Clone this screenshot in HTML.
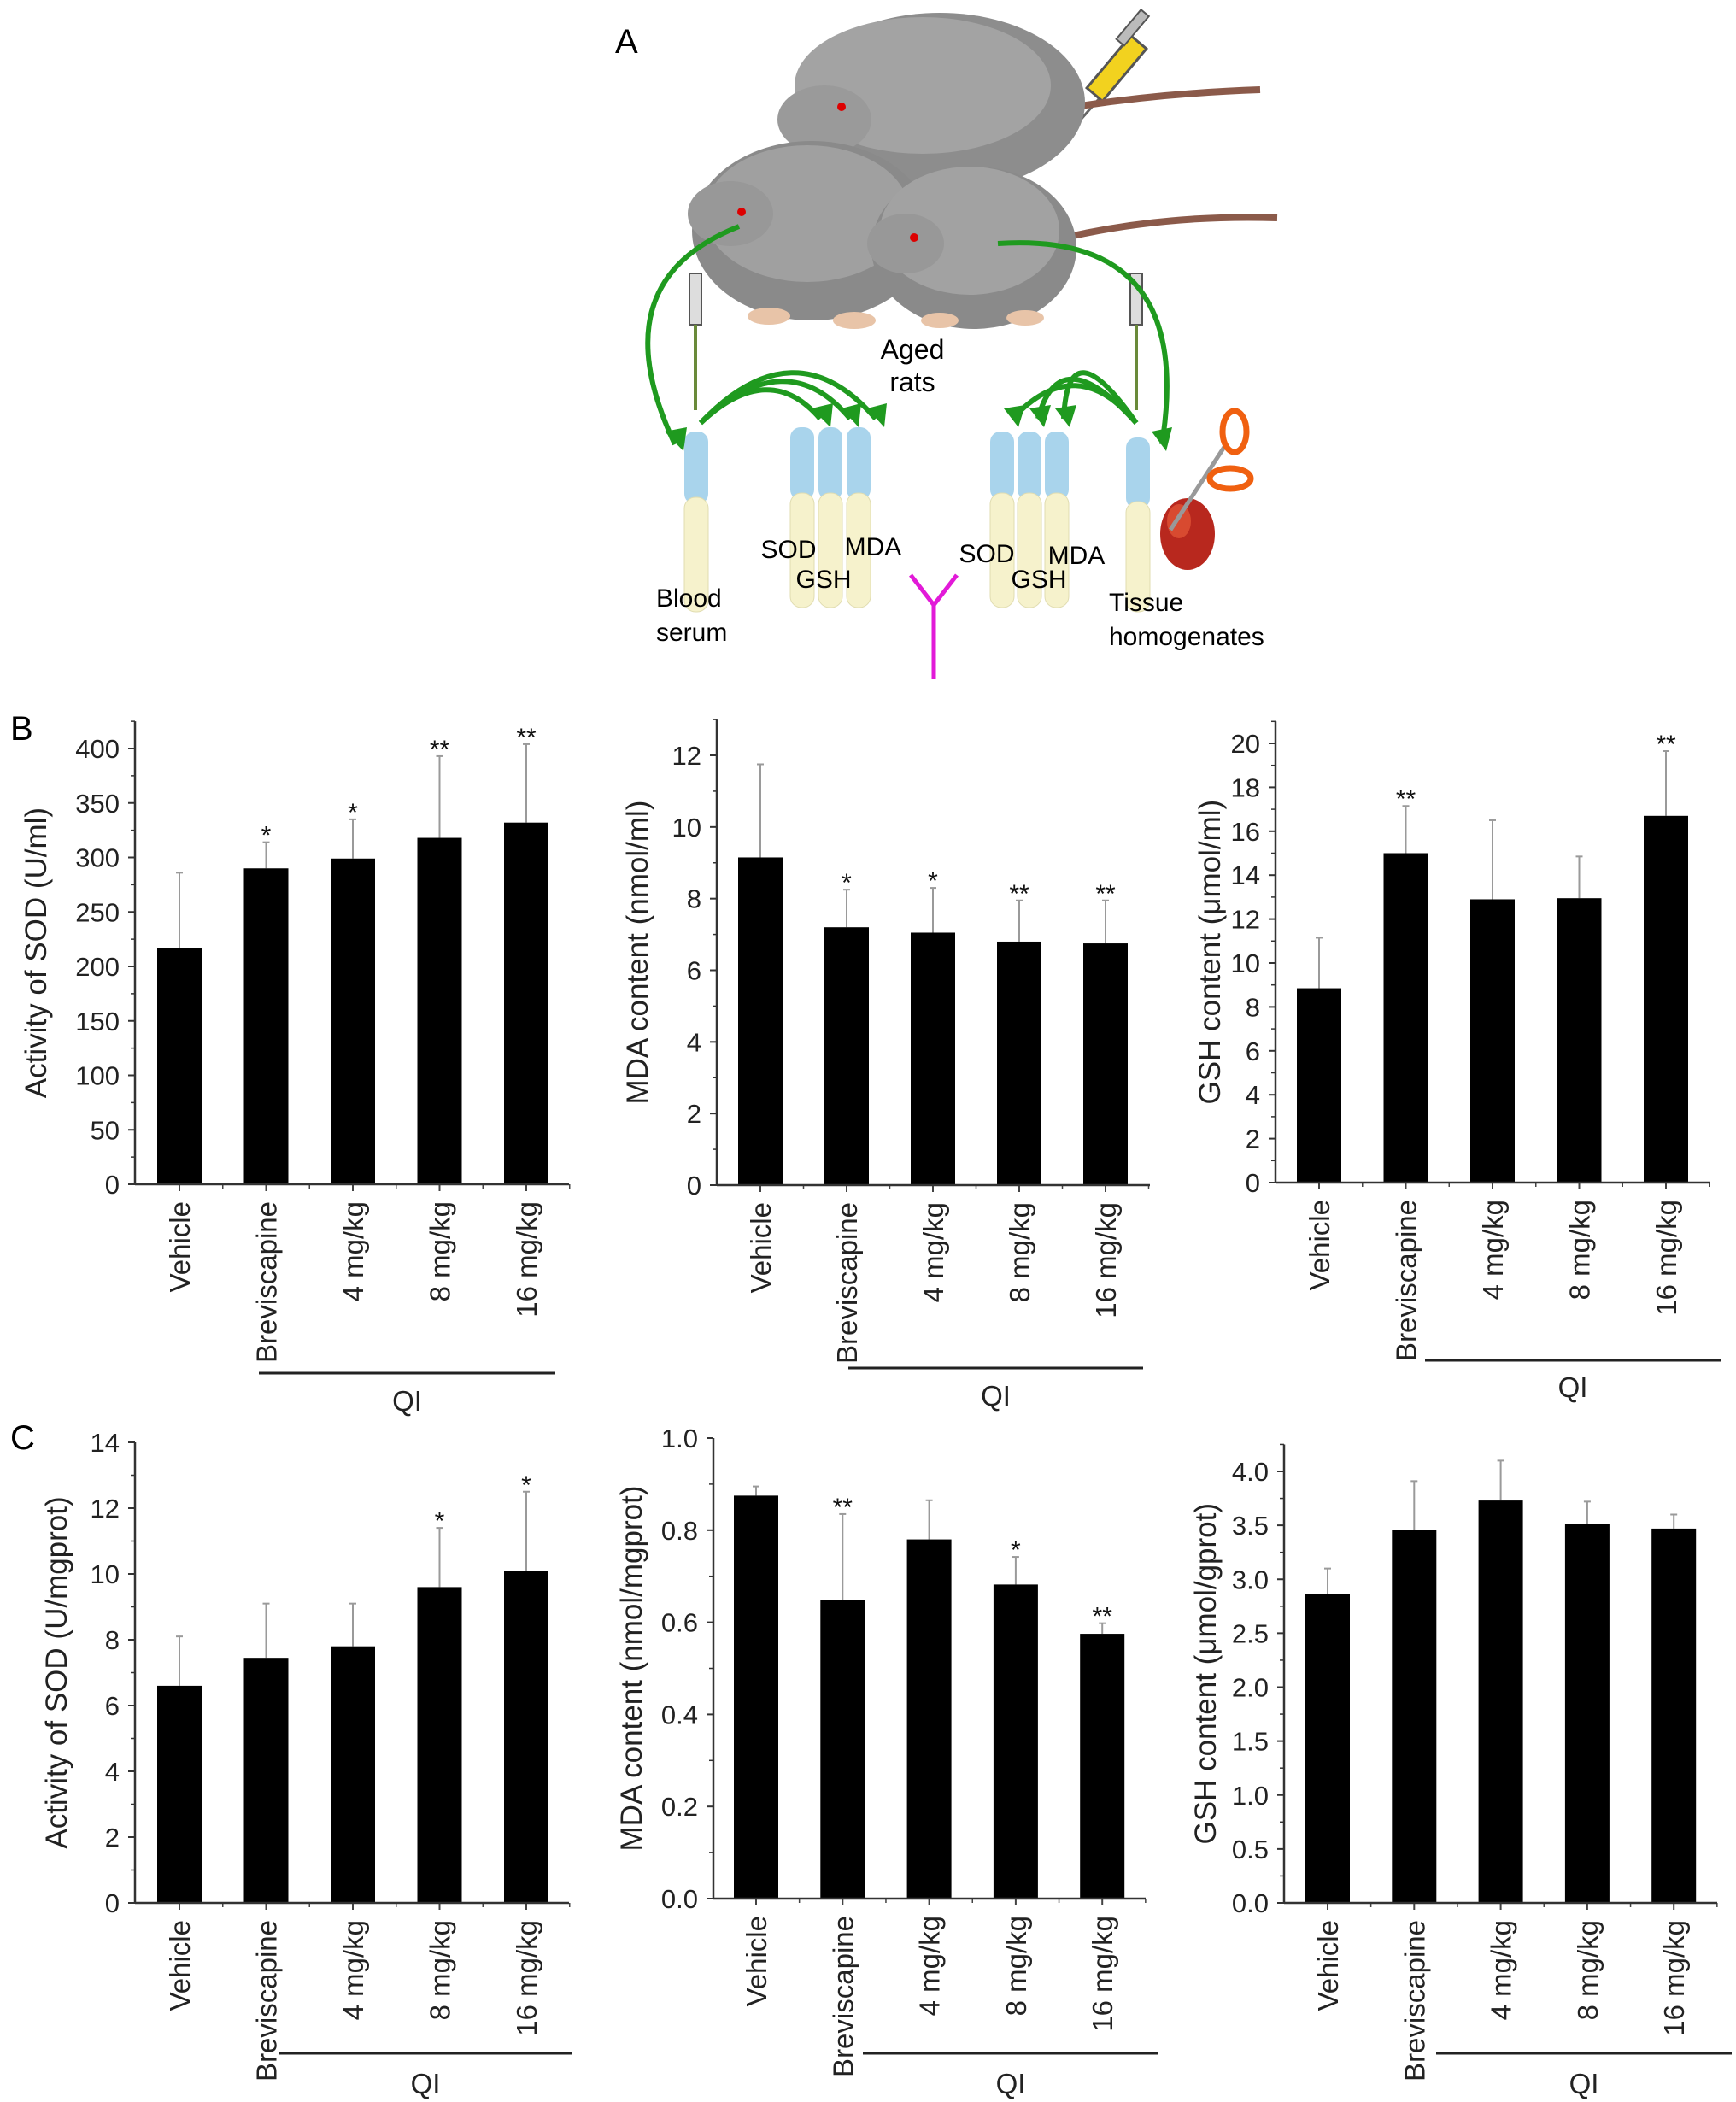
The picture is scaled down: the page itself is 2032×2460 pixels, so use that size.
<!DOCTYPE html>
<html><head><meta charset="utf-8">
<style>
html,body{margin:0;padding:0;background:#fff;}
svg{display:block;font-family:"Liberation Sans",Arial,sans-serif;}
</style></head>
<body>
<svg id="fig" width="2032" height="2460" viewBox="0 0 2032 2460" xmlns="http://www.w3.org/2000/svg">
<rect width="2032" height="2460" fill="#fff"/>
<g id="panelA">
  <text x="720" y="62" font-size="40">A</text>
  <g>
    <line x1="1265" y1="140" x2="1300" y2="100" stroke="#666" stroke-width="3"/>
    <rect x="1295" y="40" width="24" height="80" fill="#f2d21f" stroke="#555" stroke-width="3" transform="rotate(40 1307 80)"/>
    <rect x="1320" y="10" width="12" height="45" fill="#bbb" stroke="#555" stroke-width="2" transform="rotate(40 1326 32)"/>
  </g>
  <g>
    <path d="M1200 135 Q1330 110 1475 105" stroke="#8b5a4a" stroke-width="8" fill="none"/>
    <ellipse cx="1100" cy="120" rx="170" ry="105" fill="#8d8d8d"/>
    <ellipse cx="1080" cy="100" rx="150" ry="80" fill="#a3a3a3"/>
    <ellipse cx="965" cy="140" rx="55" ry="40" fill="#9a9a9a"/>
    <circle cx="985" cy="125" r="5" fill="#d00"/>
  </g>
  <g>
    <ellipse cx="950" cy="270" rx="140" ry="105" fill="#8a8a8a"/>
    <ellipse cx="945" cy="250" rx="120" ry="80" fill="#a0a0a0"/>
    <ellipse cx="855" cy="250" rx="50" ry="38" fill="#989898"/>
    <circle cx="868" cy="248" r="5" fill="#d00"/>
    <ellipse cx="900" cy="370" rx="25" ry="10" fill="#e8c4a8"/>
    <ellipse cx="1000" cy="375" rx="25" ry="10" fill="#e8c4a8"/>
  </g>
  <g>
    <path d="M1200 290 Q1340 250 1495 255" stroke="#8b5a4a" stroke-width="8" fill="none"/>
    <ellipse cx="1140" cy="290" rx="120" ry="95" fill="#8a8a8a"/>
    <ellipse cx="1135" cy="270" rx="105" ry="75" fill="#a2a2a2"/>
    <ellipse cx="1060" cy="285" rx="45" ry="35" fill="#989898"/>
    <circle cx="1070" cy="278" r="5" fill="#d00"/>
    <ellipse cx="1100" cy="375" rx="22" ry="9" fill="#e8c4a8"/>
    <ellipse cx="1200" cy="372" rx="22" ry="9" fill="#e8c4a8"/>
  </g>
  <text x="1068" y="420" font-size="32" text-anchor="middle">Aged</text>
  <text x="1068" y="458" font-size="32" text-anchor="middle">rats</text>
  <g>
    <rect x="807" y="320" width="14" height="60" fill="#ddd" stroke="#555" stroke-width="2"/>
    <line x1="814" y1="380" x2="814" y2="480" stroke="#6a8a3a" stroke-width="4"/>
    <rect x="1323" y="320" width="14" height="60" fill="#ddd" stroke="#555" stroke-width="2"/>
    <line x1="1330" y1="380" x2="1330" y2="480" stroke="#6a8a3a" stroke-width="4"/>
  </g>
  <g id="tubes"></g>
  <g fill="none" stroke="#1f9a1f" stroke-width="6">
    <path d="M865 265 Q700 330 790 520"/>
    <path d="M820 495 Q900 420 960 490"/>
    <path d="M820 495 Q920 400 995 490"/>
    <path d="M820 495 Q930 380 1025 490"/>
    <path d="M1168 285 Q1400 270 1360 520"/>
    <path d="M1330 495 Q1260 410 1185 490"/>
    <path d="M1330 495 Q1240 395 1215 490"/>
    <path d="M1330 495 Q1250 380 1245 490"/>
  </g>
  <g fill="#1f9a1f">
    <polygon points="778,505 800,528 804,500"/>
    <polygon points="950,478 972,500 975,472"/>
    <polygon points="985,478 1005,500 1008,472"/>
    <polygon points="1015,478 1035,500 1038,472"/>
    <polygon points="1348,505 1365,528 1372,500"/>
    <polygon points="1175,478 1192,500 1200,474"/>
    <polygon points="1205,478 1222,500 1230,474"/>
    <polygon points="1235,478 1252,500 1260,474"/>
  </g>
  <g>
    <ellipse cx="1390" cy="625" rx="32" ry="42" fill="#b8281e"/>
    <ellipse cx="1380" cy="610" rx="14" ry="20" fill="#d84a30"/>
    <line x1="1370" y1="620" x2="1435" y2="520" stroke="#999" stroke-width="5"/>
    <ellipse cx="1445" cy="505" rx="14" ry="24" fill="none" stroke="#f06010" stroke-width="7"/>
    <ellipse cx="1440" cy="560" rx="24" ry="12" fill="none" stroke="#f06010" stroke-width="7"/>
  </g>
  <text x="923" y="653" font-size="30" text-anchor="middle">SOD</text>
  <text x="1022" y="650" font-size="30" text-anchor="middle">MDA</text>
  <text x="964" y="688" font-size="30" text-anchor="middle">GSH</text>
  <text x="1155" y="658" font-size="30" text-anchor="middle">SOD</text>
  <text x="1260" y="660" font-size="30" text-anchor="middle">MDA</text>
  <text x="1216" y="688" font-size="30" text-anchor="middle">GSH</text>
  <text x="768" y="710" font-size="30">Blood</text>
  <text x="768" y="750" font-size="30">serum</text>
  <text x="1298" y="715" font-size="30">Tissue</text>
  <text x="1298" y="755" font-size="30">homogenates</text>
  <g stroke="#e21ad8" stroke-width="5" fill="none">
    <polyline points="1066,673 1093,708 1120,673"/>
    <line x1="1093" y1="708" x2="1093" y2="795"/>
  </g>
</g>
<text x="12" y="866" font-size="40">B</text>
<text x="12" y="1696" font-size="40">C</text>
<g id="charts"></g>
</svg>
<script>
// ---- data ----
const categories = ["Vehicle","Breviscapine","4 mg/kg","8 mg/kg","16 mg/kg"];
const serumSodMean = [217, 290, 299, 318, 332];
const serumSodErr  = [286, 314, 335, 393, 404];
const serumSodStars = ["", "*", "*", "**", "**"];
const serumSodTicks = [0,50,100,150,200,250,300,350,400];
const serumMdaMean = [9.15, 7.2, 7.05, 6.8, 6.75];
const serumMdaErr  = [11.75, 8.25, 8.3, 7.95, 7.95];
const serumMdaStars = ["", "*", "*", "**", "**"];
const serumMdaTicks = [0,2,4,6,8,10,12];
const serumGshMean = [8.85, 15.0, 12.9, 12.95, 16.7];
const serumGshErr  = [11.15, 17.15, 16.5, 14.85, 19.65];
const serumGshStars = ["", "**", "", "", "**"];
const serumGshTicks = [0,2,4,6,8,10,12,14,16,18,20];
const tissueSodMean = [6.6, 7.45, 7.8, 9.6, 10.1];
const tissueSodErr  = [8.1, 9.1, 9.1, 11.4, 12.5];
const tissueSodStars = ["", "", "", "*", "*"];
const tissueSodTicks = [0,2,4,6,8,10,12,14];
const tissueMdaMean = [0.875, 0.648, 0.78, 0.682, 0.575];
const tissueMdaErr  = [0.895, 0.835, 0.865, 0.742, 0.598];
const tissueMdaStars = ["", "**", "", "*", "**"];
const tissueMdaTicks = ["0.0","0.2","0.4","0.6","0.8","1.0"];
const tissueGshMean = [2.86, 3.46, 3.73, 3.51, 3.47];
const tissueGshErr  = [3.1, 3.91, 4.1, 3.72, 3.6];
const tissueGshStars = ["", "", "", "", ""];
const tissueGshTicks = ["0.0","0.5","1.0","1.5","2.0","2.5","3.0","3.5","4.0"];

const NS = "http://www.w3.org/2000/svg";
const root = document.getElementById('charts');
function mk(tag, attrs, parent){
  const e = document.createElementNS(NS, tag);
  for (const k in attrs) e.setAttribute(k, attrs[k]);
  parent.appendChild(e); return e;
}
const layouts = [
 {id:'serum-sod', mean:serumSodMean, err:serumSodErr, stars:serumSodStars, ticks:serumSodTicks, minor:25, top:425,
  ax:158, y0:1386, yTopVal:400, yTopPx:876, xEnd:666, c0:210, step:101.5, title:"Activity of SOD (U/ml)", tx:42, qx1:303, qx2:650, qy:1607, qty:1639},
 {id:'serum-mda', mean:serumMdaMean, err:serumMdaErr, stars:serumMdaStars, ticks:serumMdaTicks, minor:1, top:13,
  ax:839, y0:1387, yTopVal:12, yTopPx:884, xEnd:1346, c0:890, step:101, title:"MDA content (nmol/ml)", tx:746, qx1:993, qx2:1338, qy:1601, qty:1633},
 {id:'serum-gsh', mean:serumGshMean, err:serumGshErr, stars:serumGshStars, ticks:serumGshTicks, minor:1, top:21,
  ax:1493, y0:1384, yTopVal:20, yTopPx:870, xEnd:2001, c0:1544, step:101.5, title:"GSH content (\u03bcmol/ml)", tx:1416, qx1:1668, qx2:2014, qy:1592, qty:1623},
 {id:'tissue-sod', mean:tissueSodMean, err:tissueSodErr, stars:tissueSodStars, ticks:tissueSodTicks, minor:1, top:14,
  ax:158, y0:2227, yTopVal:14, yTopPx:1688, xEnd:666, c0:210, step:101.5, title:"Activity of SOD (U/mgprot)", tx:66, qx1:326, qx2:670, qy:2403, qty:2438},
 {id:'tissue-mda', mean:tissueMdaMean, err:tissueMdaErr, stars:tissueMdaStars, ticks:tissueMdaTicks, minor:0.1, top:1.0,
  ax:835, y0:2222, yTopVal:1.0, yTopPx:1683, xEnd:1341, c0:885, step:101.3, title:"MDA content (nmol/mgprot)", tx:739, qx1:1010, qx2:1356, qy:2403, qty:2438},
 {id:'tissue-gsh', mean:tissueGshMean, err:tissueGshErr, stars:tissueGshStars, ticks:tissueGshTicks, minor:0.25, top:4.25,
  ax:1503, y0:2227, yTopVal:4.0, yTopPx:1722, xEnd:2010, c0:1554, step:101.3, title:"GSH content  (\u03bcmol/gprot)", tx:1411, qx1:1681, qx2:2027, qy:2403, qty:2438}
];

layouts.forEach(L => {
  const g = mk('g', {}, root);
  
  
  const yScale = v => L.y0 - (v / L.yTopVal) * (L.y0 - L.yTopPx);
  const xScale = i => L.c0 + i * L.step;
  const bw = 52;
  L.mean.forEach((v, i) => {
    const cx = xScale(i);
    const eb = mk('line', {x1:cx, x2:cx, y1:yScale(v), y2:yScale(L.err[i]), stroke:'#9a9a9a', 'stroke-width':2}, g);
    
    
    const cap = mk('line', {x1:cx-4, x2:cx+4, y1:yScale(L.err[i]), y2:yScale(L.err[i]), stroke:'#9a9a9a', 'stroke-width':2}, g);
    
    
    const r = mk('rect', {x:cx-bw/2, y:yScale(v), width:bw, height:L.y0 - yScale(v), fill:'#000'}, g);
    
    
    if (L.stars[i]) {
      const s = mk('text', {x:cx, y:yScale(L.err[i]) + 2, 'font-size':30, 'text-anchor':'middle', fill:'#111'}, g);
      s.textContent = L.stars[i];
      
      
    }
    const xl = mk('text', {x:0, y:0, 'font-size':33, 'text-anchor':'end', fill:'#222',
      transform:'translate(' + (cx + 12) + ',' + (L.y0 + 20) + ') rotate(-90)'}, g);
    xl.textContent = categories[i];
    
    
    mk('line', {x1:cx, x2:cx, y1:L.y0, y2:L.y0+8, stroke:'#444', 'stroke-width':2}, g);
    mk('line', {x1:cx+L.step/2, x2:cx+L.step/2, y1:L.y0, y2:L.y0+5, stroke:'#444', 'stroke-width':1.5}, g);
  });
  const ya = mk('line', {x1:L.ax, x2:L.ax, y1:yScale(L.top), y2:L.y0, stroke:'#333', 'stroke-width':2.5}, g);
  
  
  const xa = mk('line', {x1:L.ax, x2:L.xEnd, y1:L.y0, y2:L.y0, stroke:'#333', 'stroke-width':2.5}, g);
  
  
  L.ticks.forEach(t => {
    const v = parseFloat(t);
    const y = yScale(v);
    mk('line', {x1:L.ax-8, x2:L.ax, y1:y, y2:y, stroke:'#333', 'stroke-width':2}, g);
    const tl = mk('text', {x:L.ax-18, y:y+11, 'font-size':31, 'text-anchor':'end', fill:'#222'}, g);
    tl.textContent = t;
    
    
  });
  for (let m = L.minor; m < L.top + 1e-9; m += L.minor * 2) {
    const y = yScale(m);
    mk('line', {x1:L.ax-5, x2:L.ax, y1:y, y2:y, stroke:'#333', 'stroke-width':1.5}, g);
  }
  const tt = mk('text', {x:0, y:0, 'font-size':35, 'text-anchor':'middle', fill:'#222',
    transform:'translate(' + (L.tx + 12) + ',' + ((L.y0 + yScale(L.top)) / 2) + ') rotate(-90)'}, g);
  tt.textContent = L.title;
  
  
  const ql = mk('line', {x1:L.qx1, x2:L.qx2, y1:L.qy, y2:L.qy, stroke:'#222', 'stroke-width':3}, g);
  
  
  const qt = mk('text', {x:(L.qx1 + L.qx2) / 2, y:L.qty + 12, 'font-size':33, 'text-anchor':'middle', fill:'#222'}, g);
  qt.textContent = 'QI';
  
  
});

const tubes = document.getElementById('tubes');
[[815,505,716,590],[939,500,711,585],[972,500,711,585],[1005,500,711,585],[1173,505,711,585],[1205,505,711,585],[1237,505,711,585],[1332,512,716,595]].forEach(t => {
  const [x, y1, y2, ym] = t;
  const a = mk('rect', {x:x-14, y:y1, width:28, height:ym-y1, rx:12, fill:'#a9d4ec'}, tubes);
  
  
  const b = mk('rect', {x:x-14, y:ym-8, width:28, height:y2-ym+8, rx:13, fill:'#f6f2cc', stroke:'#e0dcb0', 'stroke-width':1}, tubes);
  
  
});
</script>
</body></html>
